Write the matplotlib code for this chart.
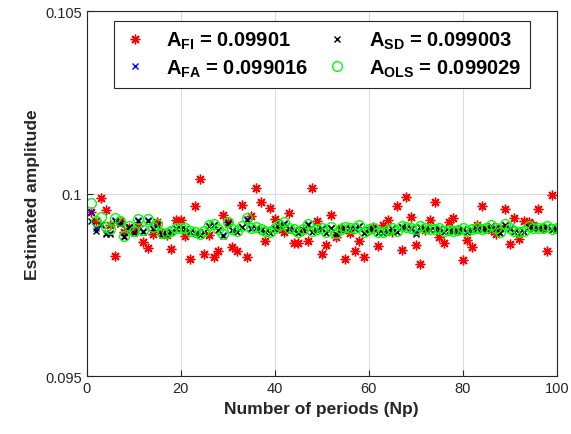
import matplotlib
matplotlib.use("Agg")
import matplotlib.pyplot as plt
from matplotlib.ticker import FormatStrFormatter

plt.rcParams['font.family'] = ['Liberation Sans', 'DejaVu Sans']
plt.rcParams['mathtext.fontset'] = 'custom'
plt.rcParams['mathtext.rm'] = 'Liberation Sans'
plt.rcParams['mathtext.bf'] = 'Liberation Sans:bold'
plt.rcParams['mathtext.default'] = 'bf'

# number of periods
np_periods = list(range(1, 101))

# estimated amplitudes for each method
a_fi = [0.09950, 0.09925, 0.09987, 0.09956, 0.09915, 0.09830, 0.09925, 0.09895, 0.09905, 0.09900,
        0.09912, 0.09868, 0.09850, 0.09889, 0.09921, 0.09893, 0.09888, 0.09848, 0.09927, 0.09927,
        0.09884, 0.09821, 0.09965, 0.10040, 0.09836, 0.09886, 0.09827, 0.09842, 0.09942, 0.09921,
        0.09854, 0.09842, 0.09969, 0.09827, 0.09939, 0.10015, 0.09976, 0.09869, 0.09962, 0.09930,
        0.09905, 0.09895, 0.09946, 0.09864, 0.09864, 0.09900, 0.09869, 0.10015, 0.09924, 0.09836,
        0.09860, 0.09941, 0.09880, 0.09905, 0.09821, 0.09891, 0.09842, 0.09869, 0.09827, 0.09900,
        0.09910, 0.09857, 0.09915, 0.09927, 0.09895, 0.09965, 0.09845, 0.09990, 0.09937, 0.09860,
        0.09807, 0.09900, 0.09927, 0.09976, 0.09882, 0.09866, 0.09921, 0.09933, 0.09900, 0.09818,
        0.09872, 0.09854, 0.09915, 0.09965, 0.09905, 0.09900, 0.09890, 0.09905, 0.09959, 0.09862,
        0.09933, 0.09875, 0.09924, 0.09922, 0.09915, 0.09959, 0.09905, 0.09842, 0.09997, 0.09905]

a_fa = [0.09949, 0.09905, 0.09918, 0.09892, 0.09892, 0.09928, 0.09920, 0.09884, 0.09910, 0.09894,
        0.09928, 0.09898, 0.09928, 0.09906, 0.09915, 0.09889, 0.09889, 0.09896, 0.09905, 0.09903,
        0.09903, 0.09896, 0.09892, 0.09887, 0.09896, 0.09912, 0.09914, 0.09901, 0.09887, 0.09919,
        0.09901, 0.09896, 0.09910, 0.09930, 0.09905, 0.09907, 0.09901, 0.09896, 0.09892, 0.09905,
        0.09913, 0.09919, 0.09905, 0.09901, 0.09892, 0.09901, 0.09916, 0.09896, 0.09901, 0.09905,
        0.09892, 0.09907, 0.09890, 0.09901, 0.09907, 0.09905, 0.09905, 0.09912, 0.09892, 0.09901,
        0.09905, 0.09892, 0.09892, 0.09898, 0.09905, 0.09896, 0.09910, 0.09907, 0.09905, 0.09894,
        0.09910, 0.09903, 0.09901, 0.09901, 0.09903, 0.09896, 0.09898, 0.09896, 0.09898, 0.09903,
        0.09896, 0.09901, 0.09905, 0.09901, 0.09903, 0.09912, 0.09905, 0.09892, 0.09914, 0.09905,
        0.09896, 0.09892, 0.09896, 0.09910, 0.09905, 0.09905, 0.09903, 0.09910, 0.09901, 0.09905]

a_sd = [0.09924, 0.09898, 0.09915, 0.09889, 0.09889, 0.09925, 0.09918, 0.09882, 0.09908, 0.09892,
        0.09926, 0.09896, 0.09926, 0.09904, 0.09913, 0.09888, 0.09888, 0.09895, 0.09904, 0.09902,
        0.09902, 0.09895, 0.09891, 0.09886, 0.09895, 0.09911, 0.09913, 0.09900, 0.09885, 0.09918,
        0.09900, 0.09895, 0.09909, 0.09929, 0.09904, 0.09906, 0.09900, 0.09895, 0.09891, 0.09904,
        0.09912, 0.09918, 0.09904, 0.09900, 0.09891, 0.09900, 0.09915, 0.09895, 0.09900, 0.09904,
        0.09891, 0.09906, 0.09889, 0.09900, 0.09906, 0.09904, 0.09904, 0.09911, 0.09891, 0.09900,
        0.09904, 0.09891, 0.09891, 0.09897, 0.09904, 0.09895, 0.09909, 0.09906, 0.09904, 0.09890,
        0.09909, 0.09902, 0.09900, 0.09900, 0.09902, 0.09895, 0.09897, 0.09895, 0.09897, 0.09902,
        0.09895, 0.09900, 0.09904, 0.09900, 0.09902, 0.09911, 0.09904, 0.09891, 0.09913, 0.09904,
        0.09895, 0.09891, 0.09895, 0.09909, 0.09904, 0.09904, 0.09902, 0.09909, 0.09900, 0.09904]

a_ols = [0.09974, 0.09925, 0.09936, 0.09908, 0.09903, 0.09933, 0.09924, 0.09884, 0.09912, 0.09898,
         0.09930, 0.09901, 0.09930, 0.09909, 0.09918, 0.09891, 0.09891, 0.09898, 0.09907, 0.09905,
         0.09905, 0.09898, 0.09894, 0.09889, 0.09898, 0.09914, 0.09916, 0.09903, 0.09889, 0.09921,
         0.09903, 0.09898, 0.09912, 0.09932, 0.09907, 0.09909, 0.09903, 0.09898, 0.09894, 0.09907,
         0.09915, 0.09921, 0.09907, 0.09903, 0.09894, 0.09903, 0.09918, 0.09898, 0.09903, 0.09907,
         0.09894, 0.09909, 0.09892, 0.09903, 0.09909, 0.09907, 0.09907, 0.09914, 0.09894, 0.09903,
         0.09907, 0.09894, 0.09894, 0.09900, 0.09907, 0.09898, 0.09912, 0.09909, 0.09907, 0.09903,
         0.09912, 0.09905, 0.09903, 0.09903, 0.09905, 0.09898, 0.09900, 0.09898, 0.09900, 0.09905,
         0.09898, 0.09903, 0.09907, 0.09903, 0.09905, 0.09914, 0.09907, 0.09894, 0.09916, 0.09907,
         0.09898, 0.09894, 0.09898, 0.09912, 0.09907, 0.09907, 0.09905, 0.09912, 0.09903, 0.09907]

labels = ['A$_{FI}$ = 0.09901', 'A$_{FA}$ = 0.099016',
          'A$_{SD}$ = 0.099003', 'A$_{OLS}$ = 0.099029']

fig = plt.figure(figsize=(5.71, 4.35), dpi=100)
ax = fig.add_axes([0.152, 0.133, 0.823, 0.839])

asterisk = (8, 2, 0)
ax.plot(np_periods, a_fi, linestyle='none', marker=asterisk, color='red',
        markersize=7, markeredgewidth=1.0, label=labels[0])
ax.plot(np_periods, a_fa, linestyle='none', marker='x', color='blue',
        markersize=4.5, markeredgewidth=1.0, label=labels[1])
ax.plot(np_periods, a_sd, linestyle='none', marker='x', color='black',
        markersize=4.5, markeredgewidth=1.0, label=labels[2])
ax.plot(np_periods, a_ols, linestyle='none', marker='o', markerfacecolor='none',
        markeredgecolor='#00ff00', markersize=7, markeredgewidth=1.0, label=labels[3])

ax.set_xlim(0, 100)
ax.set_ylim(0.095, 0.105)
ax.set_xticks([0, 20, 40, 60, 80, 100])
ax.set_yticks([0.095, 0.1, 0.105])
ax.yaxis.set_major_formatter(FormatStrFormatter('%g'))
ax.grid(True, color='#dcdcdc', linewidth=0.8)
ax.set_axisbelow(True)
ax.tick_params(direction='in', length=4, labelsize=10.5, colors='#262626')
for s in ax.spines.values():
    s.set_color('#262626')
    s.set_linewidth(0.8)

ax.set_xlabel('Number of periods (Np)', fontsize=12.5, fontweight='bold', color='#262626')
ax.set_ylabel('Estimated amplitude', fontsize=12.5, fontweight='bold', color='#262626')

leg = ax.legend(ncol=2, loc='upper center', bbox_to_anchor=(0.5, 0.973),
                prop={'size': 14.5, 'weight': 'bold'}, fancybox=False,
                edgecolor='#262626', framealpha=1, handlelength=1.2,
                handletextpad=0.95, columnspacing=0.85, borderpad=0.45,
                borderaxespad=0, labelspacing=0.3)
leg.get_frame().set_linewidth(0.8)

fig.savefig('out.png', dpi=100)
